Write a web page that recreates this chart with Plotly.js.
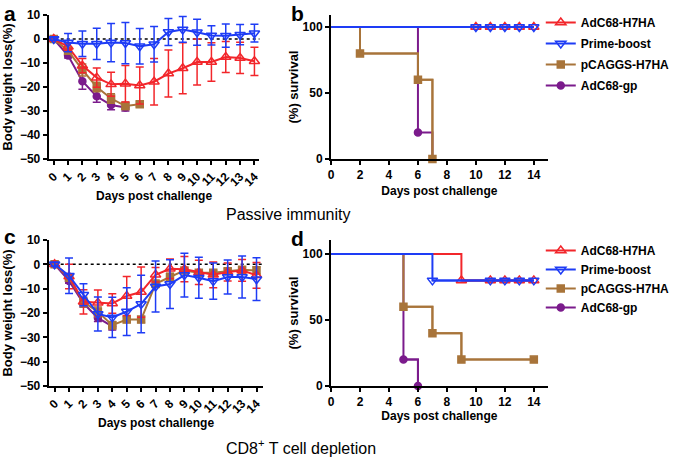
<!DOCTYPE html>
<html><head><meta charset="utf-8">
<script src="https://cdn.plot.ly/plotly-3.0.1.min.js"></script>
<style>html,body{margin:0;padding:0;background:#fff}#chart{width:675px;height:459px}</style>
</head><body><div id="chart"></div>
<script>
// ---------- data ----------
var days = [0,1,2,3,4,5,6,7,8,9,10,11,12,13,14];
var seriesNames = ['AdC68-H7HA','Prime-boost','pCAGGS-H7HA','AdC68-gp'];

// Panel a: passive immunity, body weight change (%)
var aRed = [0,-3.2,-11.1,-16.1,-18.9,-18.6,-19.4,-17.8,-14.4,-12.2,-9.6,-9.6,-7.5,-7.9,-9.3];
var aRedErr = [0.5,1.5,3,4,5,7.6,7.7,9.7,9.8,10.6,9.6,8,6.5,6.5,5.9];
var aBlue = [0,-1.5,-2,-2,-1.5,-1.7,-3,-2.2,2.9,4,2.8,1.5,1.4,1.8,2.4];
var aBlueErr = [0.5,3.8,5.3,6.5,8,8.6,7.4,7.4,5.6,5.4,5.4,4,4.8,4.2,3.7];
var aBrown = [0,-4.9,-12.9,-20,-24.8,-27.9,-27.2];
var aBrownErr = [0.5,1.5,2.5,2,2,1.5,1];
var aPurple = [0,-6.9,-17.6,-23.9,-27.5,-28.5];
var aPurpleErr = [0.5,1,3.3,2.5,2,1.5];

// Panel c: CD8+ T cell depletion, body weight change (%)
var cRed = [0,-5,-15.4,-15.8,-16.1,-13,-11.4,-4.3,-1.8,-2,-3.3,-4.3,-3.2,-2.5,-4.5];
var cRedErr = [0.8,5,5,5.3,4,8,10.3,3,4,5.2,5,5.3,3.7,4.5,5.3];
var cBlue = [0,-4.7,-12.5,-20.4,-21.8,-19.4,-16.3,-9.1,-8.1,-4.4,-5.5,-6.9,-5.2,-5.2,-6.1];
var cBlueErr = [0.8,7.3,4.5,7,8.3,9.8,11.8,10.5,10,9,8.4,7.4,7,8.6,8.8];
var cBrown = [0,-5.5,-15.5,-19.5,-25,-22.7,-22.7,-8,-5.2,-2.5,-3.5,-3.5,-2.8,-2.2,-2.5];
var cBrownErr = [0.5,1.5,2,2,1.5,1.2,1.2,1.5,1.5,1,1,1,1,1,1.5];
var cPurple = [0,-6.8,-16,-22,-25.5];
var cPurpleErr = [0.5,1,1.5,1.5,1.5];

// Panel b: survival (%) step paths and marked points
var bRedX = [0,14], bRedY = [100,100], bRedMx = [10,11,12,13,14], bRedMy = [100,100,100,100,100];
var bBlueX = [0,14], bBlueY = [100,100], bBlueMx = [10,11,12,13,14], bBlueMy = [100,100,100,100,100];
var bBrownX = [0,2,6,7], bBrownY = [100,80,60,0], bBrownMx = [2,6,7], bBrownMy = [80,60,0];
var bPurpleX = [0,6,7], bPurpleY = [100,20,0], bPurpleMx = [6], bPurpleMy = [20];

// Panel d: survival (%)
var dRedX = [0,9,14], dRedY = [100,80,80], dRedMx = [9,11,12,13,14], dRedMy = [80,80,80,80,80];
var dBlueX = [0,7,14], dBlueY = [100,80,80], dBlueMx = [7,11,12,13,14], dBlueMy = [80,80,80,80,80];
var dBrownX = [0,5,7,9,14], dBrownY = [100,60,40,20,20], dBrownMx = [5,7,9,14], dBrownMy = [60,40,20,20];
var dPurpleX = [0,5,6], dPurpleY = [100,20,0], dPurpleMx = [5,6], dPurpleMy = [20,0];

var survTicks = [0,2,4,6,8,10,12,14];

// ---------- styles ----------
var COL = {red:'#f2262b', blue:'#1e3cf5', brown:'#a8743a', purple:'#7b1b8c'};
var SYM = {red:'triangle-up-open', blue:'triangle-down-open', brown:'square', purple:'circle'};
var SIZE = {red:9, blue:9, brown:7, purple:7};
var FAM = 'Arial, "Liberation Sans", sans-serif';

function mk(key){
  return {symbol:SYM[key], size:SIZE[key], color:COL[key], line:{color:COL[key], width:1.5}};
}
function wtrace(x, y, err, key, xa, ya){
  return {x:x, y:y, xaxis:xa, yaxis:ya, mode:'lines+markers', type:'scatter', showlegend:false, cliponaxis:false,
    line:{color:COL[key], width:2}, marker:mk(key),
    error_y:{type:'data', array:err, visible:true, color:COL[key], thickness:1.5, width:4}};
}
function sline(x, y, key, xa, ya){
  return {x:x, y:y, xaxis:xa, yaxis:ya, mode:'lines', type:'scatter', showlegend:false, cliponaxis:false,
    line:{color:COL[key], width:2, shape:'hv'}, hoverinfo:'skip'};
}
function smark(x, y, key, name, xa, ya, leg, rank){
  return {x:x, y:y, xaxis:xa, yaxis:ya, mode:'lines+markers', type:'scatter', name:name, legend:leg, legendrank:rank,
    legendgroup: leg + key, cliponaxis:false,
    line:{color:COL[key], width:2, shape:'hv'}, marker:mk(key)};
}

var data = [
  wtrace(days.slice(0,aPurple.length), aPurple, aPurpleErr, 'purple','x','y'),
  wtrace(days.slice(0,aBrown.length), aBrown, aBrownErr, 'brown','x','y'),
  wtrace(days, aRed, aRedErr, 'red','x','y'),
  wtrace(days, aBlue, aBlueErr, 'blue','x','y'),

  sline(bRedX,bRedY,'red','x2','y2'), smark(bRedMx,bRedMy,'red',seriesNames[0],'x2','y2','legend',1),
  sline(bPurpleX,bPurpleY,'purple','x2','y2'), smark(bPurpleMx,bPurpleMy,'purple',seriesNames[3],'x2','y2','legend',4),
  sline(bBrownX,bBrownY,'brown','x2','y2'), smark(bBrownMx,bBrownMy,'brown',seriesNames[2],'x2','y2','legend',3),
  sline(bBlueX,bBlueY,'blue','x2','y2'), smark(bBlueMx,bBlueMy,'blue',seriesNames[1],'x2','y2','legend',2),

  wtrace(days.slice(0,cPurple.length), cPurple, cPurpleErr, 'purple','x3','y3'),
  wtrace(days, cBrown, cBrownErr, 'brown','x3','y3'),
  wtrace(days, cRed, cRedErr, 'red','x3','y3'),
  wtrace(days, cBlue, cBlueErr, 'blue','x3','y3'),

  sline(dRedX,dRedY,'red','x4','y4'), smark(dRedMx,dRedMy,'red',seriesNames[0],'x4','y4','legend2',1),
  sline(dPurpleX,dPurpleY,'purple','x4','y4'), smark(dPurpleMx,dPurpleMy,'purple',seriesNames[3],'x4','y4','legend2',4),
  sline(dBrownX,dBrownY,'brown','x4','y4'), smark(dBrownMx,dBrownMy,'brown',seriesNames[2],'x4','y4','legend2',3),
  sline(dBlueX,dBlueY,'blue','x4','y4'), smark(dBlueMx,dBlueMy,'blue',seriesNames[1],'x4','y4','legend2',2)
];

var W = 675, H = 459;
function px(a,b){ return [a/W, b/W]; }
function py(top,bot){ return [1-bot/H, 1-top/H]; }
var tf = {family:FAM, size:12, color:'#000', weight:'bold'};
var ytf = {family:FAM, size:13, color:'#000', weight:'bold'};
function baseAxis(){
  return {showline:true, linewidth:2, linecolor:'#000', ticks:'outside', ticklen:4, tickwidth:2, tickcolor:'#000',
    showgrid:false, zeroline:false, tickfont:tf, automargin:false, fixedrange:true};
}
function ax(o){ var b = baseAxis(); for (var k in o) b[k]=o[k]; return b; }

var layout = {
  width:W, height:H, margin:{l:0,r:0,t:0,b:0}, paper_bgcolor:'#fff', plot_bgcolor:'rgba(0,0,0,0)',
  font:{family:FAM, color:'#000'},
  xaxis: ax({domain:px(49,261), anchor:'y', range:[-0.35,14.35], tickvals:days, tickangle:-45,
    title:{text:'Days post challenge', font:tf, standoff:0}}),
  yaxis: ax({domain:py(15,159), anchor:'x', range:[-50,10], dtick:10,
    title:{text:'Body weight loss(%)', font:ytf, standoff:8}}),
  xaxis2: ax({domain:px(333,551), anchor:'y2', range:[0,14.96], tickvals:survTicks,
    title:{text:'Days post challenge', font:tf, standoff:5}}),
  yaxis2: ax({domain:py(15,159), anchor:'x2', range:[0,109.1], tickvals:[0,50,100],
    title:{text:'(%) survival', font:ytf, standoff:1}}),
  xaxis3: ax({domain:px(49,265), anchor:'y3', range:[-0.41,14.48], tickvals:days, tickangle:-45,
    title:{text:'Days post challenge', font:tf, standoff:1}}),
  yaxis3: ax({domain:py(240,386), anchor:'x3', range:[-50,10], dtick:10,
    title:{text:'Body weight loss(%)', font:ytf, standoff:8}}),
  xaxis4: ax({domain:px(333,551), anchor:'y4', range:[0,14.96], tickvals:survTicks,
    title:{text:'Days post challenge', font:tf, standoff:3}}),
  yaxis4: ax({domain:py(240,386), anchor:'x4', range:[0,110.6], tickvals:[0,50,100],
    title:{text:'(%) survival', font:ytf, standoff:1}}),
  legend: {x:544/W, y:1-8/H, xanchor:'left', yanchor:'top', font:tf, bgcolor:'rgba(0,0,0,0)',
    traceorder:'grouped', tracegroupgap:2},
  legend2: {x:544/W, y:1-236/H, xanchor:'left', yanchor:'top', font:tf, bgcolor:'rgba(0,0,0,0)',
    traceorder:'normal'},
  shapes: [
    {type:'line', xref:'x domain', yref:'y', x0:0, x1:1, y0:0, y1:0, line:{color:'#000', width:1.5, dash:'dot'}, layer:'below'},
    {type:'line', xref:'x3 domain', yref:'y3', x0:0, x1:1, y0:0, y1:0, line:{color:'#000', width:1.5, dash:'dot'}, layer:'below'}
  ],
  annotations: [
    {text:'a', xref:'paper', yref:'paper', x:2/W, y:1-0/H, xanchor:'left', yanchor:'top', showarrow:false, font:{family:FAM,size:21,weight:'bold'}},
    {text:'b', xref:'paper', yref:'paper', x:291/W, y:1-0/H, xanchor:'left', yanchor:'top', showarrow:false, font:{family:FAM,size:21,weight:'bold'}},
    {text:'c', xref:'paper', yref:'paper', x:2/W, y:1-223/H, xanchor:'left', yanchor:'top', showarrow:false, font:{family:FAM,size:21,weight:'bold'}},
    {text:'d', xref:'paper', yref:'paper', x:291/W, y:1-225/H, xanchor:'left', yanchor:'top', showarrow:false, font:{family:FAM,size:21,weight:'bold'}},
    {text:'Passive immunity', xref:'paper', yref:'paper', x:290/W, y:1-215/H, xanchor:'center', yanchor:'middle', showarrow:false, font:{family:FAM,size:16}},
    {text:'CD8<sup>+</sup> T cell depletion', xref:'paper', yref:'paper', x:303/W, y:1-447/H, xanchor:'center', yanchor:'middle', showarrow:false, font:{family:FAM,size:16}}
  ]
};

Plotly.newPlot('chart', data, layout, {displayModeBar:false, staticPlot:true});
</script>
</body></html>
